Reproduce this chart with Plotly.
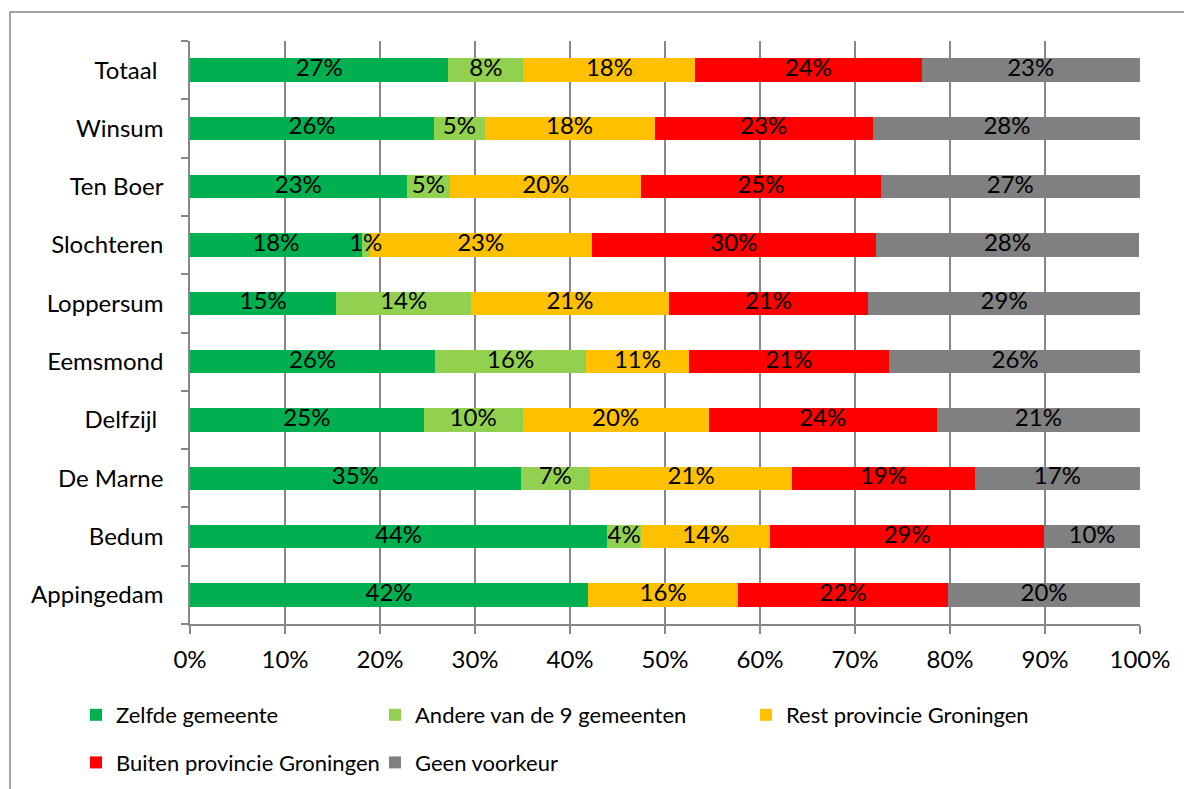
import plotly.graph_objects as go

categories = ["Appingedam", "Bedum", "De Marne", "Delfzijl", "Eemsmond",
              "Loppersum", "Slochteren", "Ten Boer", "Winsum", "Totaal"]
tick_labels = ["Appingedam", "Bedum", "De Marne", "Delfzijl\u00a0", "Eemsmond",
               "Loppersum", "Slochteren", "Ten Boer", "Winsum", "Totaal\u00a0"]

zelfde_gemeente = [41.9, 43.9, 34.8, 24.6, 25.8, 15.4, 18.1, 22.8, 25.7, 27.2]
andere_9_gemeenten = [0.0, 3.6, 7.3, 10.4, 15.9, 14.2, 0.8, 4.6, 5.3, 7.9]
rest_provincie = [15.8, 13.6, 21.3, 19.6, 10.8, 20.8, 23.4, 20.1, 17.9, 18.1]
buiten_provincie = [22.1, 28.8, 19.2, 24.0, 21.1, 21.0, 29.9, 25.2, 23.0, 23.8]
geen_voorkeur = [20.2, 10.1, 17.4, 21.4, 26.5, 28.6, 27.7, 27.3, 28.2, 23.0]

x_tick_vals = [0, 10, 20, 30, 40, 50, 60, 70, 80, 90, 100]
x_tick_text = ["0%", "10%", "20%", "30%", "40%", "50%", "60%", "70%", "80%", "90%", "100%"]

series = [
    ("Zelfde gemeente", zelfde_gemeente, "#00B050", "legend"),
    ("Andere van de 9 gemeenten", andere_9_gemeenten, "#92D050", "legend2"),
    ("Rest provincie Groningen", rest_provincie, "#FFC000", "legend3"),
    ("Buiten provincie Groningen", buiten_provincie, "#FF0000", "legend"),
    ("Geen voorkeur", geen_voorkeur, "#808080", "legend2"),
]

FONT = "Lato"
FS = 24
LEG_FS = 22
GRID = "#878787"

fig = go.Figure()
for name, vals, color, leg in series:
    fig.add_trace(go.Bar(
        y=categories, x=vals, name=name, orientation="h",
        marker=dict(color=color, line=dict(width=0)),
        legend=leg, legendgroup=name,
        hovertemplate="%{y}: %{x:.1f}%<extra>" + name + "</extra>",
    ))

# data labels drawn on top of all bars, centred in each stacked segment
lab_x, lab_y, lab_t = [], [], []
for i, cat in enumerate(categories):
    start = 0.0
    for name, vals, color, leg in series:
        v = vals[i]
        if v > 0:
            lab_x.append(start + v / 2)
            lab_y.append(cat)
            lab_t.append(f"{round(v)}%")
        start += v
fig.add_trace(go.Scatter(
    x=lab_x, y=lab_y, text=lab_t, mode="text", showlegend=False,
    textposition="middle center", hoverinfo="skip", cliponaxis=False,
    textfont=dict(family=FONT, size=FS, color="black"),
))

# The page body has an 8px margin, so the figure is drawn 8px smaller and
# all targets below are expressed in window pixels.
OFF = 8
W, H = 1192 - OFF, 789 - OFF
PL, PT, PW, PH = 190, 41, 950, 583  # plot area in window pixels
L, T = PL - OFF, PT - OFF
R, B = W - L - PW, H - T - PH

def px_x(p):
    return (p - PL) / PW

def px_y(p):
    return 1 - (p - PT) / PH

leg_common = dict(orientation="v", yanchor="top", xanchor="left",
                  font=dict(family=FONT, size=LEG_FS, color="black"),
                  bgcolor="rgba(0,0,0,0)", traceorder="grouped",
                  tracegroupgap=16, itemclick=False, itemdoubleclick=False)

fig.update_layout(
    width=W, height=H,
    margin=dict(l=L, r=R, t=T, b=B, pad=0, autoexpand=False),
    paper_bgcolor="white", plot_bgcolor="white",
    barmode="stack", bargap=0.6,
    font=dict(family=FONT, size=FS, color="black"),
    legend=dict(x=px_x(76), y=px_y(694), **leg_common),
    legend2=dict(x=px_x(375), y=px_y(694), **leg_common),
    legend3=dict(x=px_x(746), y=px_y(694), **leg_common),
    xaxis=dict(range=[0, 100], tickvals=x_tick_vals, ticktext=x_tick_text,
               showgrid=True, gridcolor=GRID, gridwidth=1.5,
               showline=True, linecolor=GRID, linewidth=1.5,
               ticks="outside", ticklen=8, tickwidth=1.5, tickcolor=GRID,
               ticklabelstandoff=5, zeroline=False, fixedrange=True,
               tickfont=dict(family=FONT, size=FS, color="black")),
    yaxis=dict(range=[-0.5, 9.5], tickmode="array",
               tickvals=categories, ticktext=tick_labels,
               tickson="boundaries", ticks="outside", ticklen=7,
               tickwidth=1.5, tickcolor=GRID,
               showline=True, linecolor=GRID, linewidth=1.5,
               showgrid=False, ticklabelstandoff=20, fixedrange=True,
               tickfont=dict(family=FONT, size=FS, color="black")),
    shapes=[dict(type="rect", xref="paper", yref="paper",
                 x0=px_x(10), x1=px_x(1300), y0=px_y(900), y1=px_y(12),
                 line=dict(color=GRID, width=1.5), fillcolor="rgba(0,0,0,0)",
                 layer="below")],
)

fig.write_html("out.html")
